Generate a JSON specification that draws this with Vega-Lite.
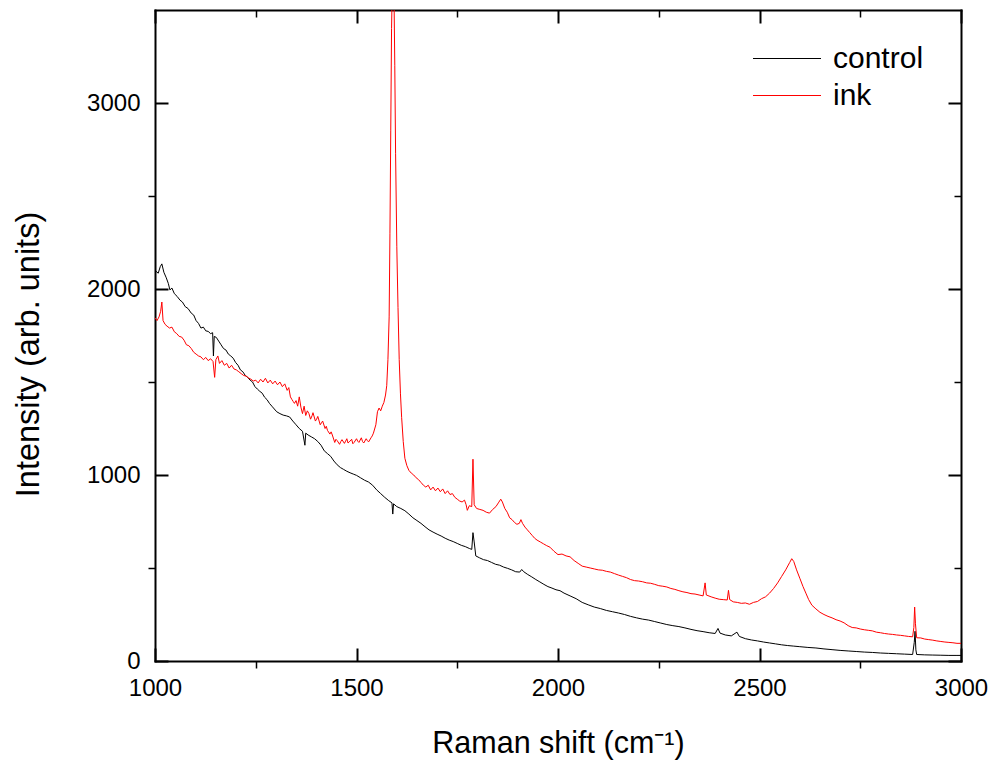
{
  "$schema": "https://vega.github.io/schema/vega-lite/v6.json",
  "width": 806,
  "height": 651,
  "autosize": {"type": "none"},
  "padding": {"left": 155, "top": 10, "right": 34, "bottom": 103},
  "background": "white",
  "config": {
    "view": {"stroke": null},
    "font": "Liberation Sans",
    "axis": {
      "grid": false,
      "domainColor": "black",
      "domainWidth": 2,
      "domainCap": "square",
      "tickColor": "black",
      "labelColor": "black",
      "titleColor": "black",
      "labelFont": "Liberation Sans",
      "titleFont": "Liberation Sans",
      "labelFontSize": 24,
      "titleFontSize": 30,
      "titleFontWeight": "normal",
      "labelFlush": false,
      "labelOverlap": false
    }
  },
  "data": {
    "values": [
      {"s":"control","x":1000,"y":2100},{"s":"control","x":1008,"y":2085},{"s":"control","x":1013,"y":2120},{"s":"control","x":1017,"y":2135},{"s":"control","x":1022,"y":2090},{"s":"control","x":1028,"y":2060},{"s":"control","x":1033,"y":2030},{"s":"control","x":1037,"y":1995},{"s":"control","x":1042,"y":2005},{"s":"control","x":1048,"y":1975},{"s":"control","x":1055,"y":1960},{"s":"control","x":1062,"y":1940},{"s":"control","x":1068,"y":1930},{"s":"control","x":1075,"y":1905},{"s":"control","x":1082,"y":1895},{"s":"control","x":1090,"y":1870},{"s":"control","x":1096,"y":1860},{"s":"control","x":1102,"y":1830},{"s":"control","x":1108,"y":1815},{"s":"control","x":1114,"y":1790},{"s":"control","x":1120,"y":1795},{"s":"control","x":1126,"y":1775},{"s":"control","x":1132,"y":1772},{"s":"control","x":1138,"y":1760},{"s":"control","x":1143,"y":1765},{"s":"control","x":1145,"y":1640},{"s":"control","x":1147,"y":1745},{"s":"control","x":1152,"y":1740},{"s":"control","x":1158,"y":1720},{"s":"control","x":1164,"y":1700},{"s":"control","x":1170,"y":1680},{"s":"control","x":1176,"y":1672},{"s":"control","x":1182,"y":1650},{"s":"control","x":1188,"y":1640},{"s":"control","x":1194,"y":1628},{"s":"control","x":1200,"y":1605},{"s":"control","x":1206,"y":1590},{"s":"control","x":1212,"y":1565},{"s":"control","x":1218,"y":1555},{"s":"control","x":1224,"y":1535},{"s":"control","x":1230,"y":1525},{"s":"control","x":1236,"y":1510},{"s":"control","x":1242,"y":1500},{"s":"control","x":1248,"y":1475},{"s":"control","x":1254,"y":1462},{"s":"control","x":1260,"y":1450},{"s":"control","x":1266,"y":1440},{"s":"control","x":1272,"y":1418},{"s":"control","x":1278,"y":1405},{"s":"control","x":1284,"y":1385},{"s":"control","x":1290,"y":1370},{"s":"control","x":1296,"y":1355},{"s":"control","x":1302,"y":1340},{"s":"control","x":1310,"y":1330},{"s":"control","x":1318,"y":1322},{"s":"control","x":1326,"y":1318},{"s":"control","x":1334,"y":1312},{"s":"control","x":1342,"y":1290},{"s":"control","x":1350,"y":1270},{"s":"control","x":1358,"y":1250},{"s":"control","x":1366,"y":1235},{"s":"control","x":1372,"y":1160},{"s":"control","x":1374,"y":1225},{"s":"control","x":1380,"y":1215},{"s":"control","x":1388,"y":1205},{"s":"control","x":1396,"y":1195},{"s":"control","x":1404,"y":1180},{"s":"control","x":1412,"y":1160},{"s":"control","x":1420,"y":1130},{"s":"control","x":1428,"y":1115},{"s":"control","x":1436,"y":1100},{"s":"control","x":1444,"y":1075},{"s":"control","x":1452,"y":1055},{"s":"control","x":1460,"y":1040},{"s":"control","x":1468,"y":1030},{"s":"control","x":1476,"y":1020},{"s":"control","x":1484,"y":1012},{"s":"control","x":1492,"y":1005},{"s":"control","x":1500,"y":998},{"s":"control","x":1510,"y":985},{"s":"control","x":1520,"y":972},{"s":"control","x":1530,"y":962},{"s":"control","x":1540,"y":945},{"s":"control","x":1550,"y":920},{"s":"control","x":1560,"y":900},{"s":"control","x":1570,"y":880},{"s":"control","x":1580,"y":862},{"s":"control","x":1588,"y":850},{"s":"control","x":1590,"y":790},{"s":"control","x":1592,"y":845},{"s":"control","x":1600,"y":830},{"s":"control","x":1610,"y":820},{"s":"control","x":1620,"y":808},{"s":"control","x":1630,"y":790},{"s":"control","x":1640,"y":770},{"s":"control","x":1650,"y":755},{"s":"control","x":1660,"y":740},{"s":"control","x":1670,"y":722},{"s":"control","x":1680,"y":705},{"s":"control","x":1690,"y":693},{"s":"control","x":1700,"y":682},{"s":"control","x":1710,"y":672},{"s":"control","x":1720,"y":660},{"s":"control","x":1730,"y":650},{"s":"control","x":1740,"y":642},{"s":"control","x":1750,"y":632},{"s":"control","x":1760,"y":622},{"s":"control","x":1770,"y":615},{"s":"control","x":1780,"y":605},{"s":"control","x":1786,"y":600},{"s":"control","x":1789,"y":690},{"s":"control","x":1792,"y":640},{"s":"control","x":1796,"y":565},{"s":"control","x":1805,"y":555},{"s":"control","x":1815,"y":545},{"s":"control","x":1825,"y":540},{"s":"control","x":1835,"y":530},{"s":"control","x":1845,"y":520},{"s":"control","x":1855,"y":515},{"s":"control","x":1865,"y":505},{"s":"control","x":1875,"y":498},{"s":"control","x":1885,"y":490},{"s":"control","x":1895,"y":480},{"s":"control","x":1905,"y":478},{"s":"control","x":1910,"y":492},{"s":"control","x":1915,"y":480},{"s":"control","x":1925,"y":465},{"s":"control","x":1935,"y":452},{"s":"control","x":1945,"y":438},{"s":"control","x":1955,"y":425},{"s":"control","x":1965,"y":412},{"s":"control","x":1975,"y":400},{"s":"control","x":1985,"y":392},{"s":"control","x":1995,"y":383},{"s":"control","x":2005,"y":378},{"s":"control","x":2015,"y":365},{"s":"control","x":2030,"y":350},{"s":"control","x":2045,"y":335},{"s":"control","x":2060,"y":315},{"s":"control","x":2075,"y":302},{"s":"control","x":2090,"y":290},{"s":"control","x":2105,"y":282},{"s":"control","x":2120,"y":272},{"s":"control","x":2135,"y":265},{"s":"control","x":2150,"y":258},{"s":"control","x":2165,"y":250},{"s":"control","x":2180,"y":240},{"s":"control","x":2195,"y":232},{"s":"control","x":2210,"y":225},{"s":"control","x":2225,"y":220},{"s":"control","x":2240,"y":212},{"s":"control","x":2255,"y":204},{"s":"control","x":2270,"y":196},{"s":"control","x":2285,"y":190},{"s":"control","x":2300,"y":185},{"s":"control","x":2315,"y":178},{"s":"control","x":2330,"y":170},{"s":"control","x":2345,"y":163},{"s":"control","x":2360,"y":158},{"s":"control","x":2375,"y":152},{"s":"control","x":2390,"y":148},{"s":"control","x":2397,"y":175},{"s":"control","x":2402,"y":150},{"s":"control","x":2415,"y":140},{"s":"control","x":2430,"y":135},{"s":"control","x":2444,"y":155},{"s":"control","x":2450,"y":132},{"s":"control","x":2465,"y":120},{"s":"control","x":2480,"y":113},{"s":"control","x":2495,"y":108},{"s":"control","x":2510,"y":102},{"s":"control","x":2525,"y":97},{"s":"control","x":2540,"y":92},{"s":"control","x":2555,"y":87},{"s":"control","x":2570,"y":83},{"s":"control","x":2585,"y":80},{"s":"control","x":2600,"y":77},{"s":"control","x":2620,"y":73},{"s":"control","x":2640,"y":70},{"s":"control","x":2660,"y":65},{"s":"control","x":2680,"y":61},{"s":"control","x":2700,"y":57},{"s":"control","x":2720,"y":54},{"s":"control","x":2740,"y":51},{"s":"control","x":2760,"y":48},{"s":"control","x":2780,"y":46},{"s":"control","x":2800,"y":43},{"s":"control","x":2820,"y":41},{"s":"control","x":2840,"y":39},{"s":"control","x":2860,"y":37},{"s":"control","x":2880,"y":35},{"s":"control","x":2884,"y":100},{"s":"control","x":2886,"y":160},{"s":"control","x":2888,"y":60},{"s":"control","x":2890,"y":35},{"s":"control","x":2910,"y":33},{"s":"control","x":2930,"y":32},{"s":"control","x":2950,"y":31},{"s":"control","x":2970,"y":30},{"s":"control","x":2990,"y":30},{"s":"control","x":3000,"y":30},
      {"s":"ink","x":1000,"y":1845},{"s":"ink","x":1005,"y":1830},{"s":"ink","x":1010,"y":1850},{"s":"ink","x":1014,"y":1880},{"s":"ink","x":1017,"y":1930},{"s":"ink","x":1020,"y":1830},{"s":"ink","x":1025,"y":1810},{"s":"ink","x":1030,"y":1800},{"s":"ink","x":1036,"y":1790},{"s":"ink","x":1042,"y":1795},{"s":"ink","x":1048,"y":1770},{"s":"ink","x":1054,"y":1760},{"s":"ink","x":1060,"y":1745},{"s":"ink","x":1066,"y":1742},{"s":"ink","x":1072,"y":1725},{"s":"ink","x":1078,"y":1700},{"s":"ink","x":1084,"y":1695},{"s":"ink","x":1090,"y":1680},{"s":"ink","x":1096,"y":1660},{"s":"ink","x":1102,"y":1650},{"s":"ink","x":1108,"y":1640},{"s":"ink","x":1114,"y":1635},{"s":"ink","x":1120,"y":1620},{"s":"ink","x":1126,"y":1632},{"s":"ink","x":1132,"y":1615},{"s":"ink","x":1138,"y":1625},{"s":"ink","x":1144,"y":1610},{"s":"ink","x":1148,"y":1525},{"s":"ink","x":1151,"y":1620},{"s":"ink","x":1156,"y":1640},{"s":"ink","x":1160,"y":1600},{"s":"ink","x":1166,"y":1615},{"s":"ink","x":1172,"y":1590},{"s":"ink","x":1178,"y":1600},{"s":"ink","x":1184,"y":1575},{"s":"ink","x":1190,"y":1590},{"s":"ink","x":1196,"y":1570},{"s":"ink","x":1202,"y":1565},{"s":"ink","x":1208,"y":1555},{"s":"ink","x":1214,"y":1545},{"s":"ink","x":1220,"y":1535},{"s":"ink","x":1226,"y":1532},{"s":"ink","x":1232,"y":1522},{"s":"ink","x":1238,"y":1515},{"s":"ink","x":1244,"y":1505},{"s":"ink","x":1250,"y":1510},{"s":"ink","x":1256,"y":1495},{"s":"ink","x":1262,"y":1515},{"s":"ink","x":1268,"y":1500},{"s":"ink","x":1274,"y":1520},{"s":"ink","x":1280,"y":1495},{"s":"ink","x":1286,"y":1510},{"s":"ink","x":1292,"y":1490},{"s":"ink","x":1298,"y":1505},{"s":"ink","x":1304,"y":1485},{"s":"ink","x":1310,"y":1500},{"s":"ink","x":1316,"y":1475},{"s":"ink","x":1322,"y":1490},{"s":"ink","x":1328,"y":1455},{"s":"ink","x":1332,"y":1470},{"s":"ink","x":1336,"y":1420},{"s":"ink","x":1340,"y":1405},{"s":"ink","x":1343,"y":1395},{"s":"ink","x":1346,"y":1385},{"s":"ink","x":1350,"y":1400},{"s":"ink","x":1354,"y":1370},{"s":"ink","x":1358,"y":1420},{"s":"ink","x":1362,"y":1365},{"s":"ink","x":1366,"y":1330},{"s":"ink","x":1370,"y":1370},{"s":"ink","x":1374,"y":1320},{"s":"ink","x":1378,"y":1345},{"s":"ink","x":1382,"y":1330},{"s":"ink","x":1386,"y":1300},{"s":"ink","x":1390,"y":1320},{"s":"ink","x":1392,"y":1335},{"s":"ink","x":1398,"y":1290},{"s":"ink","x":1401,"y":1300},{"s":"ink","x":1404,"y":1315},{"s":"ink","x":1410,"y":1270},{"s":"ink","x":1413,"y":1280},{"s":"ink","x":1416,"y":1290},{"s":"ink","x":1422,"y":1250},{"s":"ink","x":1425,"y":1262},{"s":"ink","x":1428,"y":1240},{"s":"ink","x":1434,"y":1220},{"s":"ink","x":1437,"y":1232},{"s":"ink","x":1440,"y":1215},{"s":"ink","x":1446,"y":1175},{"s":"ink","x":1449,"y":1192},{"s":"ink","x":1452,"y":1185},{"s":"ink","x":1458,"y":1165},{"s":"ink","x":1461,"y":1180},{"s":"ink","x":1464,"y":1190},{"s":"ink","x":1470,"y":1170},{"s":"ink","x":1473,"y":1182},{"s":"ink","x":1476,"y":1195},{"s":"ink","x":1479,"y":1172},{"s":"ink","x":1482,"y":1178},{"s":"ink","x":1488,"y":1192},{"s":"ink","x":1491,"y":1168},{"s":"ink","x":1494,"y":1175},{"s":"ink","x":1500,"y":1195},{"s":"ink","x":1503,"y":1182},{"s":"ink","x":1506,"y":1175},{"s":"ink","x":1512,"y":1200},{"s":"ink","x":1515,"y":1180},{"s":"ink","x":1518,"y":1172},{"s":"ink","x":1524,"y":1195},{"s":"ink","x":1527,"y":1185},{"s":"ink","x":1530,"y":1178},{"s":"ink","x":1536,"y":1200},{"s":"ink","x":1539,"y":1210},{"s":"ink","x":1542,"y":1225},{"s":"ink","x":1548,"y":1270},{"s":"ink","x":1552,"y":1340},{"s":"ink","x":1556,"y":1360},{"s":"ink","x":1560,"y":1345},{"s":"ink","x":1564,"y":1370},{"s":"ink","x":1568,"y":1390},{"s":"ink","x":1572,"y":1430},{"s":"ink","x":1575,"y":1480},{"s":"ink","x":1578,"y":1620},{"s":"ink","x":1581,"y":1850},{"s":"ink","x":1583,"y":2300},{"s":"ink","x":1585,"y":2850},{"s":"ink","x":1587,"y":3400},{"s":"ink","x":1590,"y":3800},{"s":"ink","x":1593,"y":3600},{"s":"ink","x":1595,"y":3200},{"s":"ink","x":1597,"y":2730},{"s":"ink","x":1600,"y":2230},{"s":"ink","x":1603,"y":1900},{"s":"ink","x":1606,"y":1620},{"s":"ink","x":1609,"y":1440},{"s":"ink","x":1612,"y":1310},{"s":"ink","x":1616,"y":1180},{"s":"ink","x":1620,"y":1090},{"s":"ink","x":1625,"y":1050},{"s":"ink","x":1630,"y":1025},{"s":"ink","x":1636,"y":1010},{"s":"ink","x":1642,"y":1000},{"s":"ink","x":1648,"y":985},{"s":"ink","x":1654,"y":975},{"s":"ink","x":1660,"y":960},{"s":"ink","x":1666,"y":945},{"s":"ink","x":1672,"y":935},{"s":"ink","x":1678,"y":945},{"s":"ink","x":1684,"y":920},{"s":"ink","x":1690,"y":935},{"s":"ink","x":1696,"y":915},{"s":"ink","x":1702,"y":930},{"s":"ink","x":1708,"y":910},{"s":"ink","x":1714,"y":925},{"s":"ink","x":1720,"y":900},{"s":"ink","x":1726,"y":915},{"s":"ink","x":1732,"y":895},{"s":"ink","x":1738,"y":900},{"s":"ink","x":1744,"y":880},{"s":"ink","x":1750,"y":870},{"s":"ink","x":1756,"y":860},{"s":"ink","x":1762,"y":855},{"s":"ink","x":1768,"y":865},{"s":"ink","x":1772,"y":840},{"s":"ink","x":1775,"y":810},{"s":"ink","x":1780,"y":835},{"s":"ink","x":1786,"y":830},{"s":"ink","x":1789,"y":1085},{"s":"ink","x":1792,"y":840},{"s":"ink","x":1798,"y":820},{"s":"ink","x":1806,"y":815},{"s":"ink","x":1814,"y":810},{"s":"ink","x":1822,"y":800},{"s":"ink","x":1830,"y":795},{"s":"ink","x":1838,"y":815},{"s":"ink","x":1846,"y":830},{"s":"ink","x":1852,"y":850},{"s":"ink","x":1858,"y":870},{"s":"ink","x":1862,"y":855},{"s":"ink","x":1868,"y":820},{"s":"ink","x":1874,"y":800},{"s":"ink","x":1880,"y":770},{"s":"ink","x":1886,"y":760},{"s":"ink","x":1892,"y":745},{"s":"ink","x":1898,"y":735},{"s":"ink","x":1904,"y":740},{"s":"ink","x":1908,"y":760},{"s":"ink","x":1912,"y":740},{"s":"ink","x":1918,"y":720},{"s":"ink","x":1924,"y":705},{"s":"ink","x":1930,"y":690},{"s":"ink","x":1936,"y":675},{"s":"ink","x":1942,"y":660},{"s":"ink","x":1948,"y":650},{"s":"ink","x":1956,"y":640},{"s":"ink","x":1964,"y":630},{"s":"ink","x":1972,"y":620},{"s":"ink","x":1980,"y":612},{"s":"ink","x":1990,"y":590},{"s":"ink","x":2000,"y":572},{"s":"ink","x":2010,"y":575},{"s":"ink","x":2020,"y":565},{"s":"ink","x":2030,"y":560},{"s":"ink","x":2040,"y":540},{"s":"ink","x":2050,"y":525},{"s":"ink","x":2060,"y":510},{"s":"ink","x":2070,"y":505},{"s":"ink","x":2080,"y":500},{"s":"ink","x":2090,"y":495},{"s":"ink","x":2100,"y":490},{"s":"ink","x":2110,"y":488},{"s":"ink","x":2120,"y":482},{"s":"ink","x":2130,"y":478},{"s":"ink","x":2140,"y":470},{"s":"ink","x":2150,"y":462},{"s":"ink","x":2160,"y":455},{"s":"ink","x":2170,"y":448},{"s":"ink","x":2180,"y":438},{"s":"ink","x":2190,"y":432},{"s":"ink","x":2200,"y":430},{"s":"ink","x":2210,"y":426},{"s":"ink","x":2220,"y":420},{"s":"ink","x":2230,"y":418},{"s":"ink","x":2240,"y":412},{"s":"ink","x":2250,"y":405},{"s":"ink","x":2260,"y":402},{"s":"ink","x":2270,"y":398},{"s":"ink","x":2280,"y":390},{"s":"ink","x":2290,"y":385},{"s":"ink","x":2300,"y":378},{"s":"ink","x":2310,"y":372},{"s":"ink","x":2320,"y":368},{"s":"ink","x":2330,"y":362},{"s":"ink","x":2340,"y":360},{"s":"ink","x":2350,"y":355},{"s":"ink","x":2360,"y":350},{"s":"ink","x":2365,"y":420},{"s":"ink","x":2368,"y":355},{"s":"ink","x":2380,"y":345},{"s":"ink","x":2390,"y":338},{"s":"ink","x":2400,"y":332},{"s":"ink","x":2410,"y":330},{"s":"ink","x":2420,"y":328},{"s":"ink","x":2423,"y":380},{"s":"ink","x":2426,"y":330},{"s":"ink","x":2435,"y":318},{"s":"ink","x":2445,"y":315},{"s":"ink","x":2455,"y":310},{"s":"ink","x":2465,"y":312},{"s":"ink","x":2475,"y":305},{"s":"ink","x":2485,"y":315},{"s":"ink","x":2495,"y":320},{"s":"ink","x":2505,"y":335},{"s":"ink","x":2515,"y":345},{"s":"ink","x":2525,"y":365},{"s":"ink","x":2535,"y":390},{"s":"ink","x":2545,"y":420},{"s":"ink","x":2555,"y":455},{"s":"ink","x":2565,"y":490},{"s":"ink","x":2575,"y":530},{"s":"ink","x":2580,"y":550},{"s":"ink","x":2585,"y":535},{"s":"ink","x":2592,"y":490},{"s":"ink","x":2600,"y":445},{"s":"ink","x":2608,"y":400},{"s":"ink","x":2615,"y":365},{"s":"ink","x":2622,"y":330},{"s":"ink","x":2630,"y":300},{"s":"ink","x":2640,"y":280},{"s":"ink","x":2650,"y":262},{"s":"ink","x":2660,"y":250},{"s":"ink","x":2670,"y":240},{"s":"ink","x":2680,"y":232},{"s":"ink","x":2690,"y":222},{"s":"ink","x":2700,"y":215},{"s":"ink","x":2710,"y":205},{"s":"ink","x":2720,"y":190},{"s":"ink","x":2730,"y":180},{"s":"ink","x":2740,"y":178},{"s":"ink","x":2750,"y":172},{"s":"ink","x":2760,"y":168},{"s":"ink","x":2770,"y":165},{"s":"ink","x":2780,"y":162},{"s":"ink","x":2790,"y":155},{"s":"ink","x":2800,"y":152},{"s":"ink","x":2810,"y":148},{"s":"ink","x":2820,"y":145},{"s":"ink","x":2830,"y":143},{"s":"ink","x":2840,"y":140},{"s":"ink","x":2850,"y":138},{"s":"ink","x":2860,"y":135},{"s":"ink","x":2870,"y":132},{"s":"ink","x":2880,"y":130},{"s":"ink","x":2883,"y":180},{"s":"ink","x":2885,"y":290},{"s":"ink","x":2887,"y":200},{"s":"ink","x":2890,"y":125},{"s":"ink","x":2900,"y":124},{"s":"ink","x":2910,"y":118},{"s":"ink","x":2920,"y":115},{"s":"ink","x":2930,"y":112},{"s":"ink","x":2940,"y":108},{"s":"ink","x":2950,"y":105},{"s":"ink","x":2960,"y":102},{"s":"ink","x":2970,"y":100},{"s":"ink","x":2980,"y":98},{"s":"ink","x":2990,"y":95},{"s":"ink","x":3000,"y":95}
    ]
  },
  "layer": [
    {
      "mark": {"type": "line", "strokeWidth": 1, "clip": true},
      "encoding": {
        "x": {
          "field": "x", "type": "quantitative",
          "scale": {"domain": [1000, 3000], "nice": false, "zero": false},
          "axis": {
            "orient": "bottom",
            "values": [1000, 1250, 1500, 1750, 2000, 2250, 2500, 2750, 3000],
            "format": "d",
            "labelExpr": "datum.value % 500 === 0 ? datum.label : ''",
            "tickSize": {"condition": {"test": "datum.value % 500 === 0", "value": -13}, "value": 7},
            "tickWidth": {"condition": {"test": "datum.value % 500 === 0", "value": 2}, "value": 1.5},
            "labelPadding": 28,
            "title": "Raman shift (cm⁻¹)",
            "titleFontSize": 30.5,
            "titleY": 91,
            "titleBaseline": "alphabetic"
          }
        },
        "y": {
          "field": "y", "type": "quantitative",
          "scale": {"domain": [0, 3500], "nice": false, "zero": false},
          "axis": {
            "orient": "left",
            "values": [0, 500, 1000, 1500, 2000, 2500, 3000],
            "format": "d",
            "labelExpr": "datum.value % 1000 === 0 ? datum.label : ''",
            "tickSize": {"condition": {"test": "datum.value % 1000 === 0", "value": -13}, "value": 7},
            "tickWidth": {"condition": {"test": "datum.value % 1000 === 0", "value": 2}, "value": 1.5},
            "labelPadding": 28,
            "title": "Intensity (arb. units)",
            "titleFontSize": 32.5,
            "titleX": -117,
            "titleY": 344,
            "titleBaseline": "alphabetic",
            "titleAngle": 270
          }
        },
        "color": {
          "field": "s", "type": "nominal",
          "scale": {"domain": ["control", "ink"], "range": ["#000000", "#ff0000"]},
          "legend": {
            "orient": "none",
            "legendX": 614.5,
            "legendY": 31,
            "title": null,
            "padding": 0,
            "symbolType": "M-2,0H2",
            "symbolSize": 1156,
            "symbolStrokeWidth": 1,
            "symbolFillColor": "transparent",
            "labelFontSize": 30,
            "labelFont": "Liberation Sans",
            "labelColor": "black",
            "labelOffset": 28.5,
            "rowPadding": 4
          }
        }
      }
    },
    {
      "mark": {"type": "line", "strokeOpacity": 0},
      "encoding": {
        "x": {
          "field": "x", "type": "quantitative",
          "axis": {
            "orient": "top",
            "values": [1000, 1250, 1500, 1750, 2000, 2250, 2500, 2750, 3000],
            "labels": false,
            "title": null,
            "tickSize": {"condition": {"test": "datum.value % 500 === 0", "value": -13}, "value": -7},
            "tickWidth": {"condition": {"test": "datum.value % 500 === 0", "value": 2}, "value": 1.5}
          }
        },
        "y": {
          "field": "y", "type": "quantitative",
          "axis": {
            "orient": "right",
            "values": [0, 500, 1000, 1500, 2000, 2500, 3000],
            "labels": false,
            "title": null,
            "tickSize": {"condition": {"test": "datum.value % 1000 === 0", "value": -13}, "value": -7},
            "tickWidth": {"condition": {"test": "datum.value % 1000 === 0", "value": 2}, "value": 1.5}
          }
        }
      }
    }
  ],
  "resolve": {"axis": {"x": "independent", "y": "independent"}}
}
